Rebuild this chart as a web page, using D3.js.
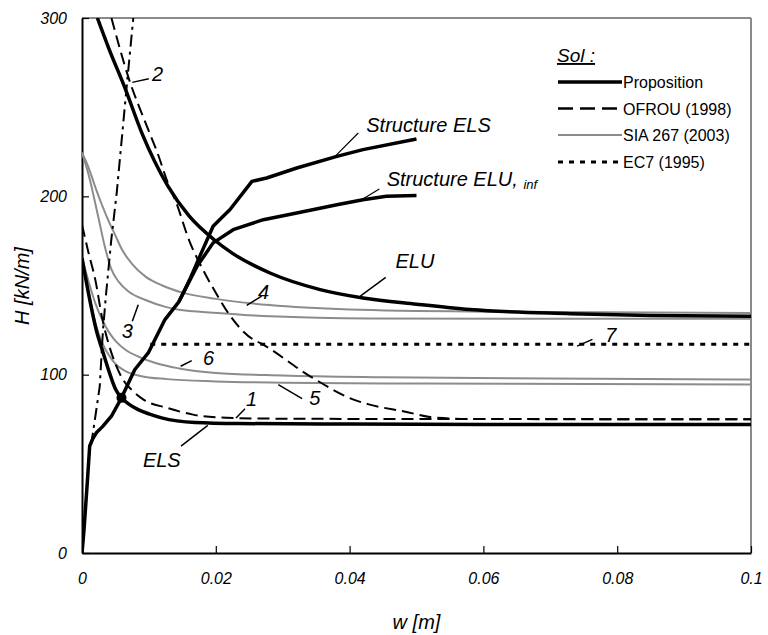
<!DOCTYPE html>
<html><head><meta charset="utf-8">
<script src="https://cdn.jsdelivr.net/npm/d3@7/dist/d3.min.js"></script>
<style>body{margin:0;background:#fff}svg{display:block;font-family:"Liberation Sans",Arial,sans-serif}</style>
</head><body><svg id="c" width="768" height="635"></svg>
<script>
// ---- data ----
const xTicks = [0, 0.02, 0.04, 0.06, 0.08, 0.1];
const xTickLabels = ["0", "0.02", "0.04", "0.06", "0.08", "0.1"];
const yTicks = [0, 100, 200, 300];
const yTickLabels = ["0", "100", "200", "300"];
const legendLabels = ["Proposition", "OFROU (1998)", "SIA 267 (2003)", "EC7 (1995)"];

// Proposition
const elsW = [0, 0.001, 0.0022, 0.0031, 0.0042, 0.005, 0.0059, 0.007, 0.0084, 0.01, 0.0119, 0.0169, 0.0233, 0.04, 0.06, 0.1];
const elsH = [165.5, 145, 124, 113, 100, 92, 87, 83.5, 80.4, 78, 75.8, 73.2, 72.6, 72.3, 72.1, 72];
const eluW = [0.0023, 0.004, 0.0064, 0.009, 0.0128, 0.016, 0.0198, 0.0225, 0.0281, 0.0356, 0.042, 0.05, 0.058, 0.073, 0.085, 0.1];
const eluH = [300, 283, 261, 235, 206, 189, 175.5, 168, 157, 147.7, 143, 139.5, 136.5, 134.2, 133.2, 132.7];
const strElsW = [0, 0.0003, 0.0008, 0.00115, 0.0016, 0.00214, 0.0031, 0.0044, 0.0059, 0.0079, 0.0099, 0.0124, 0.0145, 0.0161, 0.0178, 0.0196, 0.0211, 0.0221, 0.0254, 0.0276, 0.0321, 0.0381, 0.042, 0.05];
const strElsH = [0, 13, 40, 60, 64, 67.4, 71, 76.7, 87, 102.9, 112.2, 130.9, 141, 153.3, 168, 183.2, 188.8, 192.5, 208.4, 210.3, 215.9, 222.4, 226.2, 232.2];
const strEluW = [0.0145, 0.0172, 0.0196, 0.0226, 0.0271, 0.0321, 0.0381, 0.042, 0.0455, 0.05];
const strEluH = [141, 160.8, 173.9, 181.3, 186.9, 190.7, 195.3, 198.1, 200, 200.4];
const markW = [0.0059];
const markH = [87];

// OFROU (1998)
const ofrou1W = [0, 0.001, 0.002, 0.003, 0.004, 0.005, 0.006, 0.0074, 0.0092, 0.0127, 0.0166, 0.0216, 0.027, 0.04, 0.1];
const ofrou1H = [184, 168, 153, 132, 117, 106, 98, 91.6, 86, 81.4, 77.6, 75.8, 75.4, 75.2, 75];
const ofrou2W = [0.0044, 0.0069, 0.0099, 0.0111, 0.0131, 0.0139, 0.0161, 0.0182, 0.0203, 0.0216, 0.0256, 0.0266, 0.0341, 0.0406, 0.043, 0.048, 0.053, 0.058, 0.1];
const ofrou2H = [300, 267.2, 237.4, 226.2, 205, 198.2, 174.5, 158, 144, 136, 119.7, 117.8, 99.1, 86, 83.2, 79.5, 75.8, 75.2, 75];

// SIA 267 (2003)
const sia4W = [0, 0.001, 0.002, 0.003, 0.004, 0.005, 0.006, 0.0075, 0.0095, 0.012, 0.015, 0.02, 0.028, 0.04, 0.06, 0.1];
const sia4H = [224.5, 216, 205, 195, 186, 178, 170, 162, 155, 150, 146, 142.5, 139, 136.5, 135.3, 134.6];
const sia3W = [0, 0.001, 0.0024, 0.0034, 0.0044, 0.0055, 0.007, 0.0094, 0.0125, 0.0143, 0.0203, 0.0281, 0.043, 0.07, 0.1];
const sia3H = [224.5, 212, 189, 172, 159, 152, 146.5, 142, 138, 136.5, 134.6, 132.7, 131.5, 131.3, 131.3];
const sia6W = [0, 0.001, 0.002, 0.003, 0.004, 0.005, 0.0065, 0.0085, 0.011, 0.0145, 0.02, 0.03, 0.045, 0.07, 0.1];
const sia6H = [165.5, 152, 140, 131, 124, 119, 114, 110, 106.5, 103.5, 101, 99.5, 98.5, 97.8, 97.3];
const sia5W = [0, 0.001, 0.002, 0.003, 0.004, 0.005, 0.0065, 0.0087, 0.0127, 0.02, 0.03, 0.05, 0.1];
const sia5H = [165.5, 146, 129, 118, 111, 106, 102, 99.3, 97.5, 96.2, 95.5, 95, 94.5];

// EC7 (1995)
const ec7W = [0.0102, 0.1];
const ec7H = [117, 117];
const dashDotW = [0.00135, 0.00164, 0.00265, 0.00314, 0.00359, 0.00438, 0.00519, 0.00668, 0.00767];
const dashDotH = [60.8, 67.5, 93.4, 125.3, 144.9, 175.7, 202, 261.6, 300];

// annotations: text at (w,H), leader from (w1,H1) to (w2,H2)
const annText = ["1", "2", "3", "4", "5", "6", "7", "ELS", "ELU"];
const annW = [0.02453, 0.01045, 0.00593, 0.0263, 0.03397, 0.01808, 0.0782, 0.0091, 0.04685];
const annH = [82.6, 264.4, 120.7, 142.4, 82.9, 105.6, 118.3, 48.4, 159.8];
const leadW1 = [0.02437, 0.00998, 0.00752, 0.02686, 0.0329, 0.01640, 0.0763, 0.0148, 0.0454];
const leadH1 = [80.9, 265.9, 130.0, 144.0, 86.6, 107.9, 119.8, 59.9, 154.5];
const leadW2 = [0.02302, 0.00752, 0.00841, 0.02462, 0.02934, 0.01475, 0.0740, 0.0188, 0.0416];
const leadH2 = [75.7, 263.9, 139.2, 138.8, 94.4, 104.7, 116.0, 71.6, 144];

// ---- chart ----
const svg = d3.select("#c");
const L = 82, R = 751, T = 18, B = 553;
const x = d3.scaleLinear().domain([0, 0.1]).range([L, R]);
const y = d3.scaleLinear().domain([0, 300]).range([B, T]);

svg.append("defs").append("clipPath").attr("id", "clip")
  .append("rect").attr("x", L).attr("y", T).attr("width", R - L).attr("height", B - T);

// frame
svg.append("line").attr("x1", L).attr("x2", R).attr("y1", T).attr("y2", T).attr("stroke", "#8a8a8a").attr("stroke-width", 2);
svg.append("line").attr("x1", R).attr("x2", R).attr("y1", T).attr("y2", B).attr("stroke", "#8a8a8a").attr("stroke-width", 2);

// axes
const xAxis = d3.axisBottom(x).tickValues(xTicks).tickFormat((d, i) => xTickLabels[i]).tickSizeInner(-7).tickSizeOuter(0).tickPadding(16);
const yAxis = d3.axisLeft(y).tickValues(yTicks).tickFormat((d, i) => yTickLabels[i]).tickSizeInner(-7).tickSizeOuter(0).tickPadding(15);
const gx = svg.append("g").attr("transform", `translate(0,${B})`).call(xAxis);
const gy = svg.append("g").attr("transform", `translate(${L},0)`).call(yAxis);
[gx, gy].forEach(g => {
  g.select(".domain").attr("stroke", "#000").attr("stroke-width", 2);
  g.selectAll(".tick line").attr("stroke", "#000").attr("stroke-width", 1.2);
  g.selectAll(".tick text").attr("fill", "#000").style("font-size", "16px").style("font-style", "italic").style("font-family", "Liberation Sans, Arial, sans-serif");
});
gx.selectAll(".tick text").attr("dy", "0.95em");
gy.selectAll(".tick text").attr("x", -15);

svg.append("text").attr("x", (L + R) / 2).attr("y", 629).attr("text-anchor", "middle")
  .style("font-size", "20px").style("font-style", "italic").text("w [m]");
svg.append("text").attr("transform", "translate(29,286) rotate(-90)").attr("text-anchor", "middle")
  .style("font-size", "20px").style("font-style", "italic").text("H [kN/m]");

const plot = svg.append("g").attr("clip-path", "url(#clip)");
const zip = (ws, hs) => ws.map((w, i) => [w, hs[i]]);
const smooth = d3.line().x(d => x(d[0])).y(d => y(d[1])).curve(d3.curveMonotoneX);
const poly = d3.line().x(d => x(d[0])).y(d => y(d[1]));
const GRAY = "#8c8c8c";

function draw(gen, ws, hs, stroke, width, dash) {
  plot.append("path").attr("d", gen(zip(ws, hs))).attr("fill", "none")
    .attr("stroke", stroke).attr("stroke-width", width)
    .attr("stroke-dasharray", dash || null).attr("stroke-linejoin", "round");
}
// SIA
draw(smooth, sia4W, sia4H, GRAY, 2);
draw(smooth, sia3W, sia3H, GRAY, 2);
draw(smooth, sia6W, sia6H, GRAY, 2);
draw(smooth, sia5W, sia5H, GRAY, 2);
// EC7
draw(poly, ec7W, ec7H, "#000", 3, "5,6");
draw(poly, dashDotW, dashDotH, "#000", 2, "12,5,3,5");
// OFROU
draw(smooth, ofrou1W, ofrou1H, "#000", 2, "12,6");
draw(smooth, ofrou2W, ofrou2H, "#000", 2, "12,6");
// Proposition
draw(smooth, elsW, elsH, "#000", 3.5);
draw(smooth, eluW, eluH, "#000", 3.5);
draw(poly, strElsW, strElsH, "#000", 3.5);
draw(poly, strEluW, strEluH, "#000", 3.5);
plot.selectAll("circle.m").data(zip(markW, markH)).enter().append("circle")
  .attr("cx", d => x(d[0])).attr("cy", d => y(d[1])).attr("r", 5).attr("fill", "#000");

// annotations
annText.forEach((t, i) => {
  svg.append("line").attr("x1", x(leadW1[i])).attr("y1", y(leadH1[i])).attr("x2", x(leadW2[i])).attr("y2", y(leadH2[i]))
    .attr("stroke", "#000").attr("stroke-width", 1.5);
  svg.append("text").attr("x", x(annW[i])).attr("y", y(annH[i]))
    .style("font-size", "20px").style("font-style", "italic").text(t);
});
// structure labels
const sLabW = [0.04249, 0.04554];
const sLabH = [236.0, 205.6];
const sLeadW1 = [0.04130, 0.04444];
const sLeadH1 = [235.5, 204.1];
const sLeadW2 = [0.03782, 0.04180];
const sLeadH2 = [222.4, 198.1];
sLeadW1.forEach((w, i) => {
  svg.append("line").attr("x1", x(w)).attr("y1", y(sLeadH1[i])).attr("x2", x(sLeadW2[i])).attr("y2", y(sLeadH2[i]))
    .attr("stroke", "#000").attr("stroke-width", 1.2);
});
svg.append("text").attr("x", x(sLabW[0])).attr("y", y(sLabH[0])).style("font-size", "20px").style("font-style", "italic").text("Structure ELS");
const t2 = svg.append("text").attr("x", x(sLabW[1])).attr("y", y(sLabH[1])).style("font-size", "20px").style("font-style", "italic");
t2.append("tspan").text("Structure ELU, ");
t2.append("tspan").style("font-size", "13px").attr("dy", 3).text("inf");

// legend
const lg = svg.append("g");
lg.append("text").attr("x", 557).attr("y", 62).style("font-size", "19px").style("font-style", "italic")
  .style("text-decoration", "underline").text("Sol :");
const legStroke = ["#000", "#000", GRAY, "#000"];
const legWidth = [3.5, 2.5, 2, 3];
const legDash = [null, "15,7", null, "5,6"];
const legY = [82, 108.5, 135, 162];
legendLabels.forEach((lab, i) => {
  lg.append("line").attr("x1", 558).attr("x2", 622).attr("y1", legY[i]).attr("y2", legY[i])
    .attr("stroke", legStroke[i]).attr("stroke-width", legWidth[i]).attr("stroke-dasharray", legDash[i]);
  lg.append("text").attr("x", 623).attr("y", legY[i] + 6).style("font-size", "16px").text(lab);
});
</script></body></html>
